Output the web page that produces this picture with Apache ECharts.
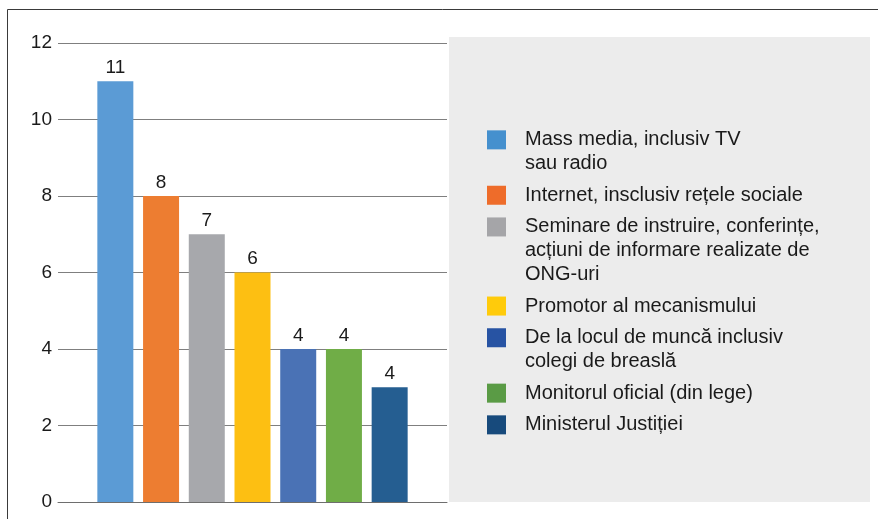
<!DOCTYPE html>
<html>
<head>
<meta charset="utf-8">
<script src="https://cdn.jsdelivr.net/npm/echarts@6/dist/echarts.min.js"></script>
<style>
    html, body { margin: 0; padding: 0; background: #fff; }
    #chart { width: 878px; height: 519px; }
</style>
</head>
<body>
<div id="chart"></div>
<script>
'use strict';
const categories = [
    "Mass media, inclusiv TV\nsau radio",
    "Internet, insclusiv rețele sociale",
    "Seminare de instruire, conferințe,\nacțiuni de informare realizate de\nONG-uri",
    "Promotor al mecanismului",
    "De la locul de muncă inclusiv\ncolegi de breaslă",
    "Monitorul oficial (din lege)",
    "Ministerul Justiției"
];
const values = [11, 8, 7, 6, 4, 4, 3];
// the printed labels (last bar reads 4 although it stands at 3)
const valueLabels = ["11", "8", "7", "6", "4", "4", "4"];
const yMin = 0, yMax = 12, yStep = 2;

const barColors = ["#5b9bd5", "#ed7d31", "#a7a8ac", "#fdbf12", "#4a72b5", "#70ad47", "#255e91"];
const keyColors = ["#4590ce", "#ee6c2a", "#a5a5a8", "#ffcb0b", "#2753a3", "#5a9b45", "#174a7c"];
const font = "Liberation Sans";
const lh = 23.7;

const rich = {
    gap: { width: 19, height: 19, lineHeight: lh },
    ind: { width: 38, height: 19, lineHeight: lh }
};
keyColors.forEach((c, i) => {
    rich["k" + i] = { width: 19, height: 19, lineHeight: lh, backgroundColor: c };
});

const chart = echarts.init(document.getElementById("chart"), null, { renderer: "canvas" });

chart.setOption({
    animation: false,
    grid: { left: 58, right: 431, top: 43, bottom: 17 },
    xAxis: {
        type: "category",
        data: [""],
        axisTick: { show: false },
        axisLabel: { show: false },
        axisLine: { lineStyle: { color: "#6e6e6e", width: 1 } }
    },
    yAxis: {
        type: "value",
        min: yMin,
        max: yMax,
        interval: yStep,
        axisLine: { show: false },
        axisTick: { show: false },
        axisLabel: {
            fontFamily: font,
            fontSize: 19,
            color: "#1a1a1a",
            margin: 6,
            padding: [0, 0, 16, 0]
        },
        splitLine: { lineStyle: { color: "#7f7f7f", width: 1 } }
    },
    legend: {
        orient: "vertical",
        left: 482,
        top: 128,
        padding: 0,
        itemGap: 8,
        itemWidth: 0,
        itemHeight: 0,
        icon: "none",
        selectedMode: false,
        data: categories,
        formatter: name => {
            const i = categories.indexOf(name);
            return name.split("\n")
                .map((line, j) => (j === 0 ? `{k${i}|}{gap|}` : "{ind|}") + line)
                .join("\n");
        },
        textStyle: {
            fontFamily: font,
            fontSize: 20,
            color: "#1a1a1a",
            lineHeight: lh,
            rich
        }
    },
    graphic: [
        // legend box
        { type: "rect", z: 3, shape: { x: 449, y: 37, width: 421, height: 465 }, style: { fill: "#ececec" } },
        // frame
        { type: "line", z: 3, shape: { x1: 7.5, y1: 9.5, x2: 878, y2: 9.5 }, style: { stroke: "#3a3a3a", lineWidth: 1 } },
        { type: "line", z: 3, shape: { x1: 7.5, y1: 9.5, x2: 7.5, y2: 519 }, style: { stroke: "#3a3a3a", lineWidth: 1 } }
    ],
    series: categories.map((name, i) => ({
        type: "bar",
        name,
        data: [values[i]],
        barWidth: 36,
        barGap: "27%",
        itemStyle: { color: barColors[i] },
        label: {
            show: true,
            position: "top",
            distance: 4,
            fontFamily: font,
            fontSize: 19,
            color: "#1a1a1a",
            formatter: () => valueLabels[i]
        },
        emphasis: { disabled: true }
    }))
});
</script>
</body>
</html>
